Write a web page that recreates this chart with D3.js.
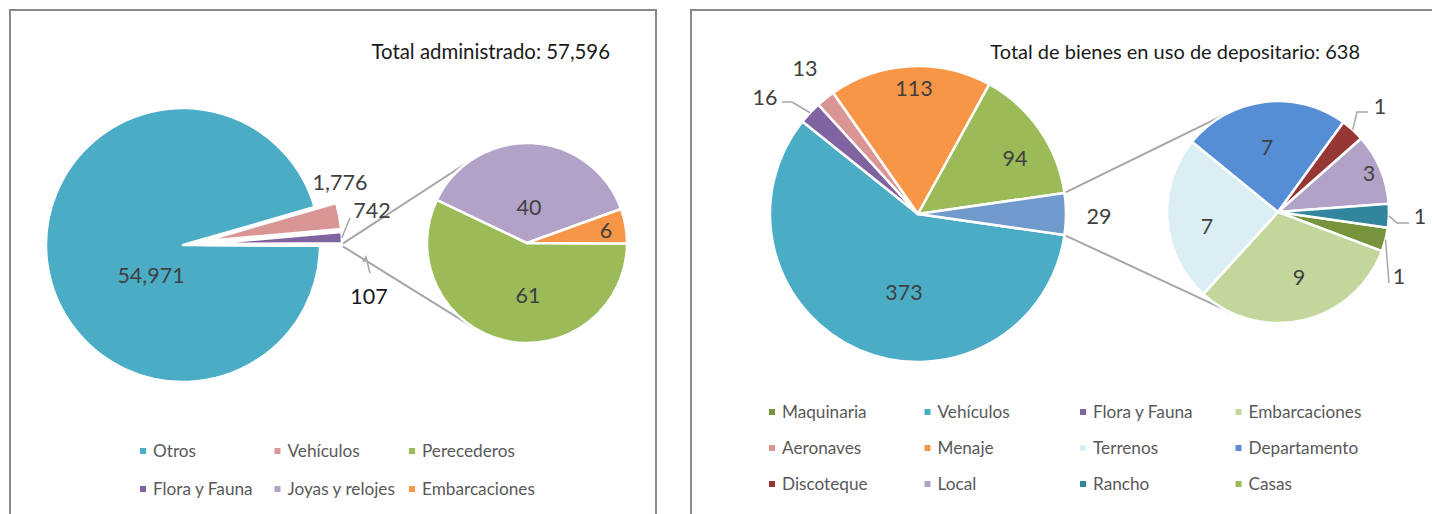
<!DOCTYPE html>
<html><head><meta charset="utf-8">
<script src="https://cdn.jsdelivr.net/npm/d3@7"></script>
<style>
body{margin:0;background:#fff}
svg{display:block}
text{font-family:Lato,"Open Sans",sans-serif}
</style>
</head><body>
<svg id="chart" width="1432" height="514"></svg>
<script>
// ---------------- DATA ----------------
const leftTitle = "Total administrado: 57,596";
const leftCategories = ["Otros","Vehículos","Perecederos","Flora y Fauna","Joyas y relojes","Embarcaciones"];
const leftValues = [54971,1776,61,742,40,6];
const leftSplitBelow = 100;   // values below go to the secondary pie

const rightTitle = "Total de bienes en uso de depositario: 638";
const rightCategories = ["Maquinaria","Vehículos","Flora y Fauna","Embarcaciones","Aeronaves","Menaje","Terrenos","Departamento","Discoteque","Local","Rancho","Casas"];
const rightValues = [1,373,16,9,13,113,7,7,1,3,1,94];
const rightSplitBelow = 10;

// ---------------- STYLES ----------------
const leftColors = {"Otros":"#4BACC6","Vehículos":"#D99694","Perecederos":"#9BBB59","Flora y Fauna":"#8064A2","Joyas y relojes":"#B3A2C7","Embarcaciones":"#F79646","__other":"#7099CC"};
const rightColors = {"Maquinaria":"#77933C","Vehículos":"#4BACC6","Flora y Fauna":"#8064A2","Embarcaciones":"#C3D69B","Aeronaves":"#D99694","Menaje":"#F79646","Terrenos":"#DBEEF4","Departamento":"#558ED5","Discoteque":"#953735","Local":"#B3A2C7","Rancho":"#31859C","Casas":"#9BBB59","__other":"#7099CC"};

const svg = d3.select("#chart");
const fmt = d3.format(",");

// panel frames
svg.append("rect").attr("x",10).attr("y",10).attr("width",646).attr("height",520)
  .attr("fill","none").attr("stroke","#898989").attr("stroke-width",2);
svg.append("rect").attr("x",691).attr("y",10).attr("width",800).attr("height",520)
  .attr("fill","none").attr("stroke","#898989").attr("stroke-width",2);

function pieOfPie(cfg){
  const g = svg.append("g");
  const items = cfg.categories.map((c,i)=>({name:c,value:cfg.values[i]}));
  const mainItems = items.filter(d=>d.value>=cfg.split);
  const secItems = items.filter(d=>d.value<cfg.split);
  const otherTotal = d3.sum(secItems,d=>d.value);
  const total = d3.sum(items,d=>d.value);
  const mainData = mainItems.concat([{name:"__other",value:otherTotal}]);
  const otherAngle = otherTotal/total*2*Math.PI;
  const a0 = Math.PI/2 + otherAngle/2;

  const pie1 = d3.pie().sort(null).value(d=>d.value).startAngle(a0).endAngle(a0+2*Math.PI);
  const arcs1 = pie1(mainData);
  const arc1 = d3.arc().innerRadius(0).outerRadius(cfg.r1);
  const pie2 = d3.pie().sort(null).value(d=>d.value).startAngle(a0).endAngle(a0+2*Math.PI);
  const arcs2 = pie2(secItems);
  const arc2 = d3.arc().innerRadius(0).outerRadius(cfg.r2);

  const C1 = cfg.c1, C2 = cfg.c2;
  const exp = d => (cfg.explode[d.data.name]||0);
  const offs = d => { const m=(d.startAngle+d.endAngle)/2, e=exp(d); return [Math.sin(m)*e, -Math.cos(m)*e]; };
  const polar = (c,a,r)=>[c[0]+Math.sin(a)*r, c[1]-Math.cos(a)*r];

  // connector lines
  const oth = arcs1[arcs1.length-1];
  const o = offs(oth);
  const pTop = polar([C1[0]+o[0],C1[1]+o[1]], oth.startAngle, cfg.r1);
  const pBot = polar([C1[0]+o[0],C1[1]+o[1]], oth.endAngle, cfg.r1);
  function tangent(P, sign){
    const dx=P[0]-C2[0], dy=P[1]-C2[1], d=Math.hypot(dx,dy);
    const phi=Math.atan2(dy,dx), al=Math.acos(cfg.r2/d);
    const t=phi+sign*al;
    return [C2[0]+cfg.r2*Math.cos(t), C2[1]+cfg.r2*Math.sin(t)];
  }
  const tTop = tangent(pTop, 1), tBot = tangent(pBot, -1);
  g.append("line").attr("x1",pTop[0]).attr("y1",pTop[1]).attr("x2",tTop[0]).attr("y2",tTop[1])
    .attr("stroke","#A6A6A6").attr("stroke-width",2);
  g.append("line").attr("x1",pBot[0]).attr("y1",pBot[1]).attr("x2",tBot[0]).attr("y2",tBot[1])
    .attr("stroke","#A6A6A6").attr("stroke-width",2);

  // main pie
  g.append("g").attr("transform",`translate(${C1})`).selectAll("path").data(arcs1).join("path")
    .attr("d",arc1)
    .attr("transform",d=>`translate(${offs(d)})`)
    .attr("fill",d=>cfg.colors[d.data.name])
    .attr("stroke","#fff").attr("stroke-width",2.5).attr("stroke-linejoin","round");
  // secondary pie
  g.append("g").attr("transform",`translate(${C2})`).selectAll("path").data(arcs2).join("path")
    .attr("d",arc2)
    .attr("fill",d=>cfg.colors[d.data.name])
    .attr("stroke","#fff").attr("stroke-width",2.5).attr("stroke-linejoin","round");

  // leader lines + labels
  const allArcs = arcs1.map(d=>({a:d,c:C1,r:cfg.r1})).concat(arcs2.map(d=>({a:d,c:C2,r:cfg.r2})));
  allArcs.forEach(({a,c,r})=>{
    const key = a.data.name;
    const lab = cfg.labels[key]; if(!lab) return;
    const lp = [c[0]+lab[0], c[1]+lab[1]];
    const ld = cfg.leaders[key];
    if(ld){
      const o = offs(a);
      const m = (a.startAngle+a.endAngle)/2;
      const anchor = ld.free ? null : polar([c[0]+o[0],c[1]+o[1]], m, r);
      const pts = ld.pts.map(p=>[lp[0]+p[0], lp[1]+p[1]]);
      if(anchor) pts.push(anchor);
      g.append("path").attr("d",d3.line()(pts)).attr("fill","none")
        .attr("stroke","#A6A6A6").attr("stroke-width",1.5);
    }
    const v = key==="__other"?otherTotal:a.data.value;
    g.append("text").attr("x",lp[0]).attr("y",lp[1]).attr("dy","0.36em")
      .attr("text-anchor","middle").attr("font-size",cfg.labelSize)
      .attr("fill", cfg.labelColor[key]||"#404040").text(fmt(v));
  });

  // title
  g.append("text").attr("x",cfg.titlePos[0]).attr("y",cfg.titlePos[1])
    .attr("text-anchor","end").attr("font-size",cfg.titleSize).attr("fill","#1a1a1a").text(cfg.title);

  // legend
  const lg = g.append("g");
  cfg.categories.forEach((c,i)=>{
    const col=i%cfg.legendCols, row=Math.floor(i/cfg.legendCols);
    const x=cfg.legendOrigin[0]+col*cfg.legendDx, y=cfg.legendOrigin[1]+row*cfg.legendDy;
    lg.append("rect").attr("x",x-3).attr("y",y-3).attr("width",6).attr("height",6).attr("fill",cfg.colors[c]);
    lg.append("text").attr("x",x+10).attr("y",y).attr("dy","0.36em").attr("font-size",cfg.legendSize)
      .attr("fill","#595959").text(c);
  });
}

pieOfPie({
  categories:leftCategories, values:leftValues, split:leftSplitBelow, colors:leftColors,
  c1:[183,245], r1:137, c2:[527,243], r2:100,
  explode:{"Vehículos":22,"Flora y Fauna":22,"__other":22},
  labels:{"Otros":[-32,30],"Vehículos":[157,-63],"Flora y Fauna":[189,-35],"__other":[186,51],
          "Perecederos":[1,52],"Joyas y relojes":[2,-36],"Embarcaciones":[79,-13]},
  labelColor:{"__other":"#1a1a1a"},
  leaders:{"Flora y Fauna":{pts:[[-22,8]]},"__other":{free:true,pts:[[1,-23],[-3,-39],[-6,-34]]}},
  labelSize:21.5, title:leftTitle, titlePos:[610,59], titleSize:20.4,
  legendOrigin:[143,451], legendCols:3, legendDx:134.5, legendDy:38, legendSize:17.2
});

pieOfPie({
  categories:rightCategories, values:rightValues, split:rightSplitBelow, colors:rightColors,
  c1:[918,214], r1:148, c2:[1278,212], r2:111,
  explode:{},
  labels:{"Vehículos":[-14,78],"Flora y Fauna":[-153,-117],"Aeronaves":[-113,-146],"Menaje":[-4,-126],"Casas":[97,-56],"__other":[181,2],
          "Maquinaria":[121,64],"Embarcaciones":[21,65],"Terrenos":[-71,14],"Departamento":[-11,-65],"Discoteque":[102,-106],"Local":[91,-39],"Rancho":[142,4]},
  labelColor:{},
  leaders:{"Flora y Fauna":{pts:[[17,5],[27,5]]},
           "Discoteque":{pts:[[-12,6],[-23,6]]},
           "Rancho":{pts:[[-11,7],[-23,7]]},
           "Maquinaria":{pts:[[-10,7]]}},
  labelSize:21.5, title:rightTitle, titlePos:[1360,59], titleSize:20,
  legendOrigin:[772,412], legendCols:4, legendDx:155.5, legendDy:36, legendSize:17.2
});
</script>
</body></html>
